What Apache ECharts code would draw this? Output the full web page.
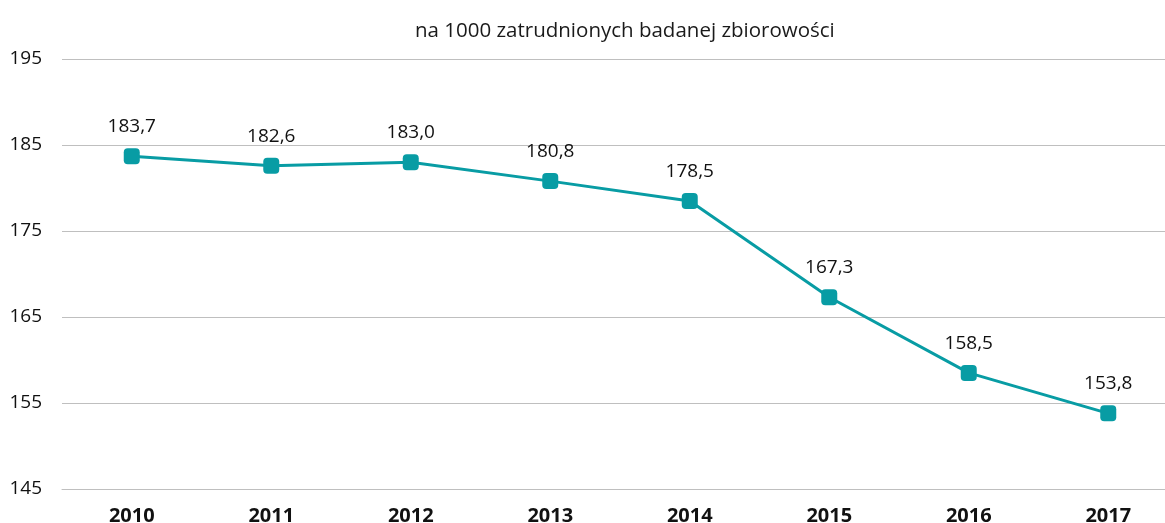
<!DOCTYPE html>
<html>
<head>
<meta charset="utf-8">
<script src="https://cdn.jsdelivr.net/npm/echarts@6/dist/echarts.min.js"></script>
<style>
  html, body { margin: 0; padding: 0; background: #fff; overflow: hidden; }
  /* plot area runs a little past the right edge of the window, as in the original */
  #main { width: 1178px; height: 523px; }
</style>
</head>
<body>
<div id="main"></div>
<script>
var years = ["2010", "2011", "2012", "2013", "2014", "2015", "2016", "2017"];
var values = [183.7, 182.6, 183.0, 180.8, 178.5, 167.3, 158.5, 153.8];
var title = "na 1000 zatrudnionych badanej zbiorowości";

var chart = echarts.init(document.getElementById("main"));
chart.setOption({
  animation: false,
  textStyle: { fontFamily: "Open Sans" },
  title: {
    text: title,
    left: 410,
    top: 16,
    textStyle: { fontSize: 20.5, fontWeight: "normal", color: "#1a1a1a", fontFamily: "Open Sans" }
  },
  grid: { left: 62, right: 0, top: 59, bottom: 34, outerBoundsMode: "none" },
  xAxis: {
    type: "category",
    data: years,
    axisLine: { lineStyle: { color: "#bfbfbf", width: 1 } },
    axisTick: { length: 6, lineStyle: { color: "#bfbfbf" } },
    axisLabel: { fontSize: 20, fontWeight: "bold", color: "#111", margin: 17 }
  },
  yAxis: {
    type: "value",
    min: 145,
    max: 195,
    interval: 10,
    axisLine: { show: false },
    axisTick: { show: false },
    splitLine: { lineStyle: { color: "#bfbfbf", width: 1 } },
    axisLabel: { fontSize: 19, color: "#111", margin: 20 }
  },
  series: [{
    type: "line",
    data: values,
    symbol: "roundRect",
    symbolSize: 16,
    lineStyle: { color: "#089ca4", width: 3 },
    itemStyle: { color: "#089ca4" },
    label: {
      show: true,
      position: "top",
      distance: 12,
      fontSize: 19,
      color: "#111",
      formatter: function (p) { return p.value.toFixed(1).replace(".", ","); }
    }
  }]
});
</script>
</body>
</html>
